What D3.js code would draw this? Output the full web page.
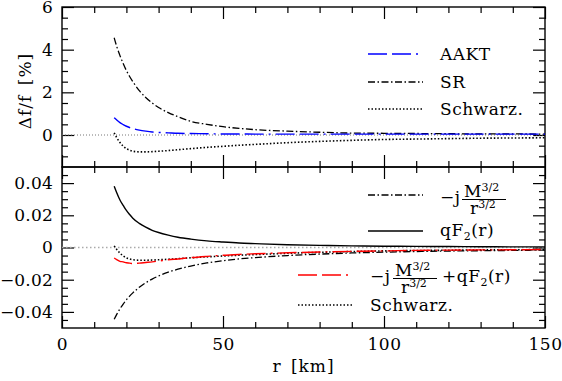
<!DOCTYPE html>
<html>
<head>
<meta charset="utf-8">
<script src="https://cdn.jsdelivr.net/npm/d3@7"></script>
<style>
body { margin: 0; background: #fff; }
text { font-family: "DejaVu Serif", serif; fill: #000; }
</style>
</head>
<body>
<div id="chart"></div>
<script>
//--------------------------------------------------------------------------------
// values
var radius   = [16.2, 17, 18, 19, 20, 21, 22, 24, 26, 28, 30, 33, 36, 40, 45, 50, 55, 60, 70, 80, 90, 100, 110, 120, 130, 140, 150];

// top panel, delta f / f in percent
var aakt     = [0.81, 0.70, 0.58, 0.49, 0.41, 0.35, 0.30, 0.23, 0.18, 0.14, 0.12, 0.10, 0.08, 0.07, 0.06, 0.05, 0.05, 0.04, 0.04, 0.04, 0.04, 0.04, 0.04, 0.04, 0.04, 0.04, 0.04];
var sr       = [4.56, 4.15, 3.72, 3.35, 3.02, 2.74, 2.50, 2.08, 1.76, 1.50, 1.29, 1.05, 0.86, 0.64, 0.50, 0.39, 0.31, 0.25, 0.18, 0.13, 0.09, 0.08, 0.07, 0.06, 0.05, 0.05, 0.04];
var schwTop  = [0.10, -0.12, -0.35, -0.52, -0.64, -0.71, -0.76, -0.79, -0.79, -0.78, -0.76, -0.73, -0.69, -0.64, -0.58, -0.53, -0.48, -0.44, -0.36, -0.30, -0.25, -0.21, -0.19, -0.17, -0.15, -0.14, -0.13];

// bottom panel
var jTerm    = [-0.0446, -0.0415, -0.0381, -0.0351, -0.0325, -0.0302, -0.0282, -0.0247, -0.0219, -0.0196, -0.0177, -0.0153, -0.0135, -0.0115, -0.0096, -0.0082, -0.0071, -0.0063, -0.0050, -0.0041, -0.0034, -0.0029, -0.0025, -0.0022, -0.0020, -0.0018, -0.0016];
var qF2      = [0.0381, 0.0340, 0.0295, 0.0262, 0.0230, 0.0205, 0.0182, 0.0150, 0.0126, 0.0107, 0.0093, 0.0077, 0.0064, 0.0052, 0.0041, 0.0034, 0.0028, 0.0024, 0.0017, 0.0013, 0.0010, 0.0008, 0.0007, 0.0006, 0.0005, 0.0004, 0.0004];
var sumTerm  = [-0.0065, -0.0075, -0.0086, -0.0089, -0.0095, -0.0097, -0.0100, -0.0097, -0.0093, -0.0089, -0.0084, -0.0076, -0.0071, -0.0063, -0.0055, -0.0048, -0.0043, -0.0039, -0.0033, -0.0028, -0.0024, -0.0021, -0.0018, -0.0016, -0.0015, -0.0014, -0.0012];
var schwBot  = [0.0010, -0.0012, -0.0035, -0.0052, -0.0064, -0.0071, -0.0076, -0.0079, -0.0079, -0.0078, -0.0076, -0.0073, -0.0069, -0.0064, -0.0058, -0.0053, -0.0048, -0.0044, -0.0036, -0.0030, -0.0025, -0.0021, -0.0019, -0.0017, -0.0015, -0.0014, -0.0013];

var xMajor   = [0, 50, 100, 150];
var xMinor   = [10, 20, 30, 40, 60, 70, 80, 90, 110, 120, 130, 140];
var topMajor = [0, 2, 4, 6];
var topMinor = [-1, -0.5, 0.5, 1, 1.5, 2.5, 3, 3.5, 4.5, 5, 5.5];
var botMajor = [-0.04, -0.02, 0, 0.02, 0.04];
var botMinor = [-0.045, -0.035, -0.03, -0.025, -0.015, -0.01, -0.005, 0.005, 0.01, 0.015, 0.025, 0.03, 0.035, 0.045];

//--------------------------------------------------------------------------------
var width = 562, height = 381;
var left = 62, right = 545, top1 = 7, mid = 167, bottom = 328;

var dashDot  = "7,2.5,1.5,2.5";
var longDash = "19,5,19,5,2,5";
var dotted   = "1.5,2";

var svg = d3.select("#chart").append("svg")
    .attr("width", width)
    .attr("height", height);

var x = d3.scaleLinear().domain([0, 150]).range([left, right]);
var yTop = d3.scaleLinear().domain([-1.5, 6]).range([mid, top1]);
var yBot = d3.scaleLinear().domain([-0.05, 0.05]).range([bottom, mid]);

function fmtBot(v) {
   if (v === 0) return "0";
   return (v < 0 ? "\u2212" : "") + Math.abs(v).toFixed(2);
}

//--------------------------------------------------------------------------------
function drawFrame(y, y0, y1, major, minor, fmt) {

   var g = svg.append("g");

   // minor + major ticks on all four sides, pointing inward
   g.append("g").attr("transform", "translate(" + left + ",0)")
      .call(d3.axisLeft(y).tickValues(minor).tickSize(-6).tickFormat(""));
   g.append("g").attr("transform", "translate(" + right + ",0)")
      .call(d3.axisRight(y).tickValues(minor).tickSize(-6).tickFormat(""));
   g.append("g").attr("transform", "translate(" + right + ",0)")
      .call(d3.axisRight(y).tickValues(major).tickSize(-12).tickFormat(""));
   g.append("g").attr("class", "ylab").attr("transform", "translate(" + left + ",0)")
      .call(d3.axisLeft(y).tickValues(major).tickSize(-12).tickPadding(9).tickFormat(fmt));

   g.append("g").attr("transform", "translate(0," + y0 + ")")
      .call(d3.axisBottom(x).tickValues(xMinor).tickSize(-6).tickFormat(""));
   g.append("g").attr("transform", "translate(0," + y0 + ")")
      .call(d3.axisBottom(x).tickValues(xMajor).tickSize(-12).tickFormat(""));
   g.append("g").attr("transform", "translate(0," + y1 + ")")
      .call(d3.axisTop(x).tickValues(xMinor).tickSize(-6).tickFormat(""));
   g.append("g").attr("transform", "translate(0," + y1 + ")")
      .call(d3.axisTop(x).tickValues(xMajor).tickSize(-12).tickFormat(""));

   g.selectAll(".domain").remove();
   g.selectAll(".tick line").attr("stroke", "#000").attr("stroke-width", 1.2);
   g.selectAll(".ylab text")
      .style("font-family", "DejaVu Serif")
      .style("font-size", "17px")
      .style("letter-spacing", "0.2px");

   g.append("rect")
      .attr("x", left).attr("y", y1)
      .attr("width", right - left).attr("height", y0 - y1)
      .attr("fill", "none").attr("stroke", "#000").attr("stroke-width", 1.4);
}

drawFrame(yTop, mid, top1, topMajor, topMinor, d3.format("d"));
drawFrame(yBot, bottom, mid, botMajor, botMinor, fmtBot);

// x tick labels under the bottom panel
svg.append("g").attr("class", "xlab").attr("transform", "translate(0," + bottom + ")")
   .call(d3.axisBottom(x).tickValues(xMajor).tickSize(0).tickPadding(10).tickFormat(d3.format("d")))
   .call(function (g) { g.select(".domain").remove(); })
   .selectAll("text")
   .style("font-family", "DejaVu Serif")
   .style("font-size", "17px")
   .style("letter-spacing", "0.5px");

//--------------------------------------------------------------------------------
// zero reference lines
svg.append("line")
   .attr("x1", x(0)).attr("x2", x(150)).attr("y1", yTop(0)).attr("y2", yTop(0))
   .attr("stroke", "#777").attr("stroke-width", 1).attr("stroke-dasharray", "1,2");
svg.append("line")
   .attr("x1", x(0)).attr("x2", x(150)).attr("y1", yBot(0)).attr("y2", yBot(0))
   .attr("stroke", "#aaa").attr("stroke-width", 1.3).attr("stroke-dasharray", "1.5,2.5");

function drawCurve(y, values, color, dash, w) {
   var pts = radius.map(function (r, i) { return [r, values[i]]; });
   var line = d3.line()
      .x(function (d) { return x(d[0]); })
      .y(function (d) { return y(d[1]); })
      .curve(d3.curveMonotoneX);
   svg.append("path")
      .datum(pts)
      .attr("d", line)
      .attr("fill", "none")
      .attr("stroke", color)
      .attr("stroke-width", w)
      .attr("stroke-dasharray", dash);
}

drawCurve(yTop, schwTop, "#000", dotted, 1.6);
drawCurve(yTop, sr, "#000", dashDot, 1.3);
drawCurve(yTop, aakt, "#0000ff", longDash, 1.4);

drawCurve(yBot, schwBot, "#000", dotted, 1.6);
drawCurve(yBot, jTerm, "#000", dashDot, 1.3);
drawCurve(yBot, qF2, "#000", null, 1.4);
drawCurve(yBot, sumTerm, "#ff0000", longDash, 1.4);

//--------------------------------------------------------------------------------
// legends
function legendLine(x1, x2, yy, color, dash, w) {
   svg.append("line")
      .attr("x1", x1).attr("x2", x2).attr("y1", yy).attr("y2", yy)
      .attr("stroke", color).attr("stroke-width", w)
      .attr("stroke-dasharray", dash);
}
function label(tx, ty, s, size) {
   return svg.append("text")
      .attr("x", tx).attr("y", ty)
      .style("font-size", (size || 17) + "px")
      .style("letter-spacing", "0.5px")
      .text(s);
}

legendLine(368, 423, 54, "#0000ff", longDash, 1.4);
label(440, 60, "AAKT");
legendLine(368, 423, 82, "#000", dashDot, 1.3);
label(440, 88, "SR");
legendLine(368, 423, 109, "#000", dotted, 1.6);
label(440, 115, "Schwarz.");

// -j M^{3/2} / r^{3/2}
function fraction(fx, barY) {
   var t = svg.append("text").attr("x", fx + 2).attr("y", barY - 2.5).style("font-size", "17px");
   t.append("tspan").text("M");
   t.append("tspan").attr("dy", -6).style("font-size", "11px").text("3/2");
   var b = svg.append("text").attr("x", fx + 8).attr("y", barY + 14).style("font-size", "17px");
   b.append("tspan").text("r");
   b.append("tspan").attr("dy", -6).style("font-size", "11px").text("3/2");
   svg.append("line")
      .attr("x1", fx).attr("x2", fx + 44).attr("y1", barY).attr("y2", barY)
      .attr("stroke", "#000").attr("stroke-width", 1);
}

legendLine(368, 423, 195, "#000", dashDot, 1.3);
label(440, 203, "\u2212j");
fraction(462, 199.5);

legendLine(368, 423, 231, "#000", null, 1.4);
var q1 = label(440, 236, "qF");
q1.append("tspan").attr("dy", 4).style("font-size", "11px").text("2");
q1.append("tspan").attr("dy", -4).text("(r)");

legendLine(298, 352, 275, "#ff0000", longDash, 1.4);
label(370, 282, "\u2212j");
fraction(393, 278.5);
var q2 = label(442, 282, "+qF");
q2.append("tspan").attr("dy", 4).style("font-size", "11px").text("2");
q2.append("tspan").attr("dy", -4).text("(r)");

legendLine(298, 352, 305, "#000", dotted, 1.6);
label(370, 311, "Schwarz.");

//--------------------------------------------------------------------------------
// axis titles
svg.append("text")
   .attr("x", (left + right) / 2).attr("y", 372)
   .attr("text-anchor", "middle")
   .style("font-size", "17px")
   .style("letter-spacing", "1px")
   .style("word-spacing", "3px")
   .text("r [km]");

svg.append("text")
   .attr("transform", "translate(31," + 91 + ") rotate(-90)")
   .attr("text-anchor", "middle")
   .style("font-size", "17px")
   .style("letter-spacing", "1px")
   .style("word-spacing", "3px")
   .text("\u0394f/f [%]");
</script>
</body>
</html>
